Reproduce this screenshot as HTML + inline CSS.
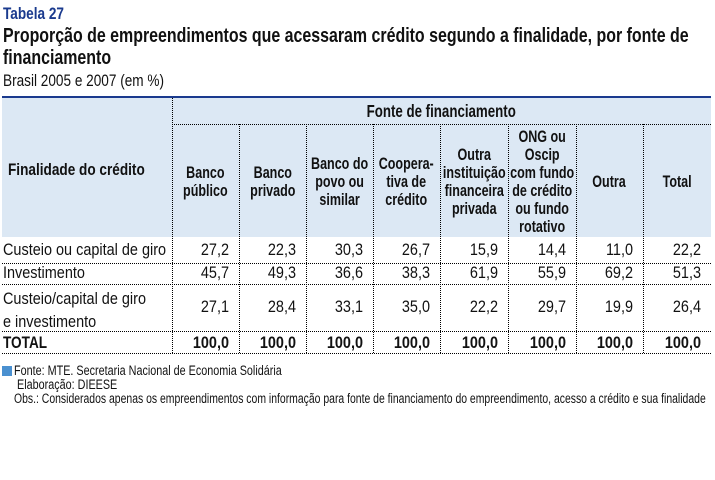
<!DOCTYPE html>
<html><head><meta charset="utf-8"><style>
body{margin:0;width:715px;height:480px;background:#fff;position:relative;overflow:hidden;font-family:"Liberation Sans Narrow","Liberation Sans",sans-serif;color:#111}
.a{position:absolute;white-space:nowrap;transform:scaleX(0.8);transform-origin:0 0}
.h{position:absolute;border-top:1px dotted #000;height:0}
.v{position:absolute;border-left:1px dotted #000;width:0}
.c{position:absolute;text-align:center;font-weight:bold;font-size:16.5px;line-height:18px;display:flex;align-items:center;justify-content:center}
.c span{display:inline-block;transform:scaleX(0.76);white-space:nowrap}
.n{position:absolute;text-align:right;font-size:16px;transform:scaleX(0.85);transform-origin:100% 0}
.b{font-weight:bold}
</style></head><body>
<div class="a b" style="left:3px;top:4px;font-size:17px;color:#1a3a8e">Tabela 27</div>
<div class="a b" style="left:3px;top:25px;font-size:20px;line-height:22px;transform:scaleX(0.797)">Proporção de empreendimentos que acessaram crédito segundo a finalidade, por fonte de<br>financiamento</div>
<div class="a" style="left:3px;top:71px;font-size:17px">Brasil 2005 e 2007 (em %)</div>
<div style="position:absolute;left:2px;top:96px;width:709px;height:2px;background:#1a3a8e"></div>
<div style="position:absolute;left:2px;top:98px;width:709px;height:139px;background:#dce8f4"></div>
<div class="a b" style="left:8px;top:160px;font-size:17px">Finalidade do crédito</div>
<div class="c" style="left:172px;width:539px;top:99px;height:24px;font-size:17.5px"><span>Fonte de financiamento</span></div>
<div class="h" style="left:172px;width:539px;top:124px"></div>
<div class="c" style="left:172px;width:67px;top:126px;height:111px"><span>Banco<br>público</span></div>
<div class="c" style="left:239px;width:67px;top:126px;height:111px"><span>Banco<br>privado</span></div>
<div class="c" style="left:306px;width:67px;top:126px;height:111px"><span>Banco do<br>povo ou<br>similar</span></div>
<div class="c" style="left:373px;width:67px;top:126px;height:111px"><span>Coopera-<br>tiva de<br>crédito</span></div>
<div class="c" style="left:440px;width:68px;top:126px;height:111px"><span>Outra<br>instituição<br>financeira<br>privada</span></div>
<div class="c" style="left:508px;width:68px;top:126px;height:111px"><span>ONG ou<br>Oscip<br>com fundo<br>de crédito<br>ou fundo<br>rotativo</span></div>
<div class="c" style="left:576px;width:67px;top:126px;height:111px"><span>Outra</span></div>
<div class="c" style="left:643px;width:68px;top:126px;height:111px"><span>Total</span></div>
<div class="v" style="left:172px;top:98px;height:255px"></div>
<div class="v" style="left:239px;top:124px;height:229px"></div>
<div class="v" style="left:306px;top:124px;height:229px"></div>
<div class="v" style="left:373px;top:124px;height:229px"></div>
<div class="v" style="left:440px;top:124px;height:229px"></div>
<div class="v" style="left:508px;top:124px;height:229px"></div>
<div class="v" style="left:576px;top:124px;height:229px"></div>
<div class="v" style="left:643px;top:124px;height:229px"></div>
<div class="h" style="left:2px;width:709px;top:263px"></div>
<div class="h" style="left:2px;width:709px;top:284px"></div>
<div class="h" style="left:2px;width:709px;top:331px"></div>
<div class="h" style="left:2px;width:709px;top:353px"></div>
<div class="a" style="left:3px;top:240px;font-size:17px;transform:scaleX(0.85)">Custeio ou capital de giro</div>
<div class="a" style="left:3px;top:263px;font-size:17px;transform:scaleX(0.85)">Investimento</div>
<div class="a" style="left:3px;top:287px;font-size:17px;line-height:23px;transform:scaleX(0.85)">Custeio/capital de giro<br>e investimento</div>
<div class="a b" style="left:3px;top:333px;font-size:17px">TOTAL</div>
<div id="nums"></div>
<script>
var xs=[172,239,306,373,440,508,576,643],ws=[67,67,67,67,68,68,67,68];
var rows=[[240,["27,2","22,3","30,3","26,7","15,9","14,4","11,0","22,2"],0],
[263,["45,7","49,3","36,6","38,3","61,9","55,9","69,2","51,3"],0],
[297,["27,1","28,4","33,1","35,0","22,2","29,7","19,9","26,4"],0],
[333,["100,0","100,0","100,0","100,0","100,0","100,0","100,0","100,0"],1]];
var h="";rows.forEach(function(r){r[1].forEach(function(v,i){h+='<div class="n'+(r[2]?' b':'')+'" style="left:'+xs[i]+'px;width:'+(ws[i]-10)+'px;top:'+r[0]+'px;font-size:17px">'+v+'</div>';});});
document.getElementById('nums').innerHTML=h;
</script>
<div style="position:absolute;left:2px;top:366px;width:10px;height:10px;background:#4a90d0"></div>
<div class="a" style="left:14px;top:363px;font-size:13.5px">Fonte: MTE. Secretaria Nacional de Economia Solidária</div>
<div class="a" style="left:17px;top:377px;font-size:13.5px">Elaboração: DIEESE</div>
<div class="a" style="left:14px;top:391px;font-size:13.5px;transform:scaleX(0.772)">Obs.: Considerados apenas os empreendimentos com informação para fonte de financiamento do empreendimento, acesso a crédito e sua finalidade</div>
</body></html>
